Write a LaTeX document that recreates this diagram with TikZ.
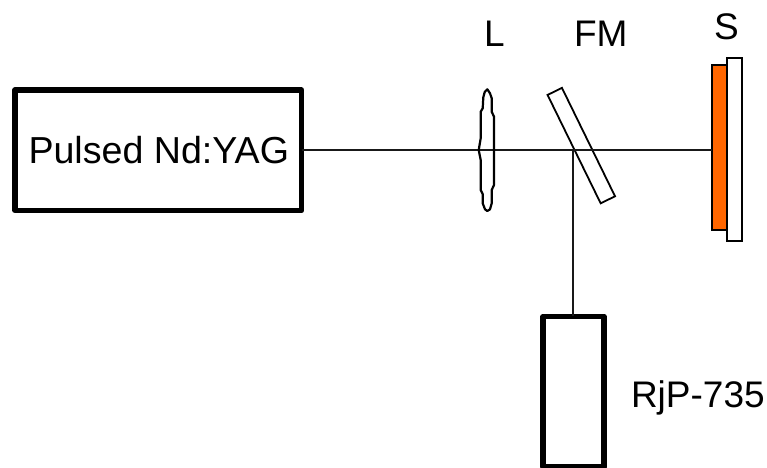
\documentclass[tikz,border=0pt]{standalone}
\usepackage{fontspec}
\setmainfont{Liberation Sans}
\definecolor{sampleorange}{RGB}{255,102,0}
\tikzset{
  thickbox/.style={draw=black,line width=5.5pt,line join=round,rectangle,inner sep=0pt,outer sep=0pt,fill=white},
  thinbox/.style={draw=black,line width=2.2pt,rectangle,inner sep=0pt,outer sep=0pt},
  beam/.style={draw=black!90,line width=1.8pt},
  lbl/.style={inner sep=0pt,outer sep=0pt,anchor=base west,font=\fontsize{37}{37}\selectfont,text=black}
}
\begin{document}
\begin{tikzpicture}[x=1pt,y=-1pt]
\useasboundingbox (0,0) rectangle (767,467);
\clip (0,0) rectangle (767,467);
\coordinate (split) at (573.3,150);
\node[thickbox,minimum width=286.5pt,minimum height=120.3pt] (laser) at (158.3,150.3) {};
\node[thinbox,fill=sampleorange,minimum width=15pt,minimum height=165pt] (film) at (719.2,147.5) {};
\node[thinbox,fill=white,minimum width=15.6pt,minimum height=182.7pt] (sample) at (734.5,149.3) {};
\node[thickbox,minimum width=60.8pt,minimum height=150.3pt] (detector) at (573.6,391.6) {};
\node[thinbox,fill=white,line width=1.8pt,rotate=-63.9,minimum width=120.7pt,minimum height=16pt] (mirror) at (581.3,145.6) {};
\draw[beam] (laser.east |- split) -- (split) -- (split -| film.west);
\draw[beam] (split) -- (split |- detector.north);
\draw[black,line width=2.2pt,line join=round]
 (487.3,89.3) -- (484.7,92) -- (483.3,97.3) -- (482.7,108.3) -- (480.7,111.7) -- (480.7,138.3) -- (478.7,150) -- (480.7,160) -- (480.7,190) -- (482.7,194) -- (482.7,203.3) -- (485,209.3) -- (487.3,211) -- (490,209.3) -- (491.7,203.3) -- (491.7,190) -- (494,185) -- (494,116.7) -- (491.7,111.7) -- (491.7,98.3) -- (490,93.3) -- cycle;
\node[lbl,font=\fontsize{37.6}{37.6}\selectfont] (tlaser) at (28.5,163) {Pulsed Nd:YAG};
\node[lbl] (tL) at (484,46) {L};
\node[lbl] (tFM) at (574,46) {FM};
\node[lbl] (tS) at (714,39) {S};
\node[lbl] (tdet) at (631,407) {RjP-735};
\end{tikzpicture}
\end{document}
